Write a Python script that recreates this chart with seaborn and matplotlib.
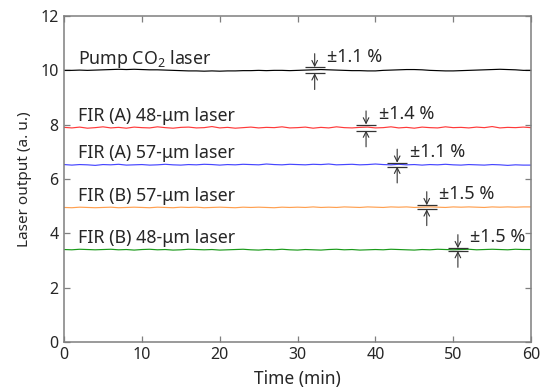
import numpy as np
import pandas as pd
import matplotlib as mpl
mpl.use('Agg')
import matplotlib.pyplot as plt
import seaborn as sns

# ---- data (laser output vs time) ----
series_names = ['Pump CO$_2$ laser', 'FIR (A) 48-μm laser', 'FIR (A) 57-μm laser',
                'FIR (B) 57-μm laser', 'FIR (B) 48-μm laser']
series_colors = ['black', '#ff3a3a', '#4646ff', '#ffa050', '#1a9a1a']

pump_co2 = [10.00, 10.00, 10.01, 10.00, 10.01, 10.02, 10.03, 10.04, 10.03, 10.04, 10.03,
            10.02, 10.02, 10.01, 10.00, 9.99, 9.98, 9.98, 9.97, 9.98, 9.97, 9.98, 9.98,
            9.99, 9.99, 10.00, 9.99, 10.00, 10.00, 9.99, 10.00, 10.01, 10.02, 10.03,
            10.02, 10.01, 10.00, 9.99, 9.99, 9.98, 9.98, 10.00, 10.01, 10.02, 10.03,
            10.03, 10.02, 10.00, 9.99, 9.98, 9.98, 9.99, 10.00, 10.01, 10.02, 10.03,
            10.04, 10.03, 10.02, 10.00, 10.00]
fir_a48 = [7.90, 7.88, 7.91, 7.87, 7.89, 7.92, 7.88, 7.90, 7.87, 7.91, 7.89, 7.88, 7.92,
           7.89, 7.87, 7.90, 7.91, 7.88, 7.89, 7.93, 7.88, 7.90, 7.87, 7.89, 7.91, 7.88,
           7.90, 7.89, 7.92, 7.88, 7.89, 7.91, 7.87, 7.90, 7.88, 7.92, 7.89, 7.88, 7.90,
           7.91, 7.88, 7.89, 7.92, 7.88, 7.90, 7.87, 7.91, 7.89, 7.88, 7.92, 7.89, 7.90,
           7.88, 7.91, 7.89, 7.93, 7.88, 7.90, 7.89, 7.91, 7.89]
fir_a57 = [6.53, 6.51, 6.53, 6.52, 6.50, 6.53, 6.52, 6.54, 6.51, 6.52, 6.53, 6.51, 6.52,
           6.54, 6.52, 6.51, 6.53, 6.52, 6.54, 6.53, 6.51, 6.53, 6.52, 6.54, 6.53, 6.52,
           6.55, 6.53, 6.52, 6.54, 6.53, 6.52, 6.54, 6.53, 6.55, 6.52, 6.53, 6.54, 6.52,
           6.53, 6.55, 6.53, 6.52, 6.54, 6.52, 6.53, 6.51, 6.53, 6.52, 6.54, 6.52, 6.51,
           6.53, 6.52, 6.51, 6.53, 6.52, 6.50, 6.52, 6.51, 6.51]
fir_b57 = [4.95, 4.94, 4.96, 4.95, 4.94, 4.95, 4.96, 4.94, 4.95, 4.96, 4.95, 4.94, 4.96,
           4.95, 4.94, 4.96, 4.95, 4.96, 4.94, 4.95, 4.96, 4.95, 4.94, 4.96, 4.95, 4.96,
           4.95, 4.94, 4.96, 4.95, 4.96, 4.95, 4.97, 4.95, 4.96, 4.95, 4.97, 4.96, 4.95,
           4.97, 4.96, 4.95, 4.97, 4.96, 4.97, 4.95, 4.96, 4.97, 4.96, 4.95, 4.97, 4.96,
           4.97, 4.96, 4.95, 4.97, 4.96, 4.97, 4.96, 4.97, 4.97]
fir_b48 = [3.40, 3.39, 3.41, 3.40, 3.39, 3.40, 3.41, 3.39, 3.40, 3.38, 3.40, 3.41, 3.39,
           3.40, 3.38, 3.39, 3.41, 3.40, 3.39, 3.40, 3.38, 3.39, 3.40, 3.41, 3.39, 3.38,
           3.40, 3.39, 3.41, 3.39, 3.38, 3.40, 3.39, 3.38, 3.40, 3.41, 3.39, 3.40, 3.38,
           3.39, 3.40, 3.39, 3.41, 3.40, 3.39, 3.38, 3.40, 3.39, 3.41, 3.40, 3.39, 3.40,
           3.41, 3.39, 3.40, 3.41, 3.40, 3.39, 3.41, 3.40, 3.40]
all_series = [pump_co2, fir_a48, fir_a57, fir_b57, fir_b48]

# fluctuation markers: time position and +- percentage
marker_times = [32.2, 38.8, 42.8, 46.6, 50.6]
marker_pcts = [1.1, 1.4, 1.1, 1.5, 1.5]

# ---- style ----
sns.set_style('ticks')
plt.rcParams['font.family'] = ['Noto Sans', 'DejaVu Sans']
plt.rcParams['mathtext.default'] = 'regular'
TickSize = 11.5
NameSize = 12.8
PctSize = 13
SpineColor = '#7f7f7f'
TextColor = '#262626'

fig = plt.figure(figsize=(5.43, 3.92), dpi=100)
ax = fig.add_axes([0.118, 0.128, 0.860, 0.831])

for name, vals, col in zip(series_names, all_series, series_colors):
    t = np.linspace(0, 60, len(vals))
    df = pd.DataFrame({'Time': t, 'Output': vals})
    sns.lineplot(data=df, x='Time', y='Output', color=col, linewidth=0.85, ax=ax)
    ax.text(1.8, vals[0] + 0.42, name, fontsize=NameSize, va='center', ha='left', color=TextColor)

# +- markers with inward arrows
for vals, tm, pct in zip(all_series, marker_times, marker_pcts):
    level = np.mean(vals)
    half = level * pct / 100
    ax.hlines([level - half, level + half], tm - 1.3, tm + 1.3, colors='#333333', linewidth=0.9)
    ax.annotate('', xy=(tm, level + half), xytext=(tm, level + half + 0.5),
                arrowprops=dict(arrowstyle='->', color='#333333', lw=0.8, shrinkA=0, shrinkB=0))
    ax.annotate('', xy=(tm, level - half), xytext=(tm, level - half - 0.6),
                arrowprops=dict(arrowstyle='->', color='#333333', lw=0.8, shrinkA=0, shrinkB=0))
    ax.text(tm + 1.6, level + 0.48, '±%.1f %%' % pct, fontsize=PctSize,
            va='center', ha='left', color=TextColor)

ax.set_xlim(0, 60)
ax.set_ylim(0, 12)
ax.set_xticks(range(0, 61, 10))
ax.set_yticks(range(0, 13, 2))
ax.set_xlabel('Time (min)', fontsize=12.5, labelpad=5, color=TextColor)
ax.set_ylabel('Laser output (a. u.)', fontsize=11, labelpad=6, color=TextColor)
ax.tick_params(direction='in', length=4.5, width=0.9, color=SpineColor,
               top=True, right=True, labelsize=TickSize, pad=4, labelcolor=TextColor)
for sp in ax.spines.values():
    sp.set_color(SpineColor)
    sp.set_linewidth(1.1)

fig.savefig('out.png', dpi=100)
